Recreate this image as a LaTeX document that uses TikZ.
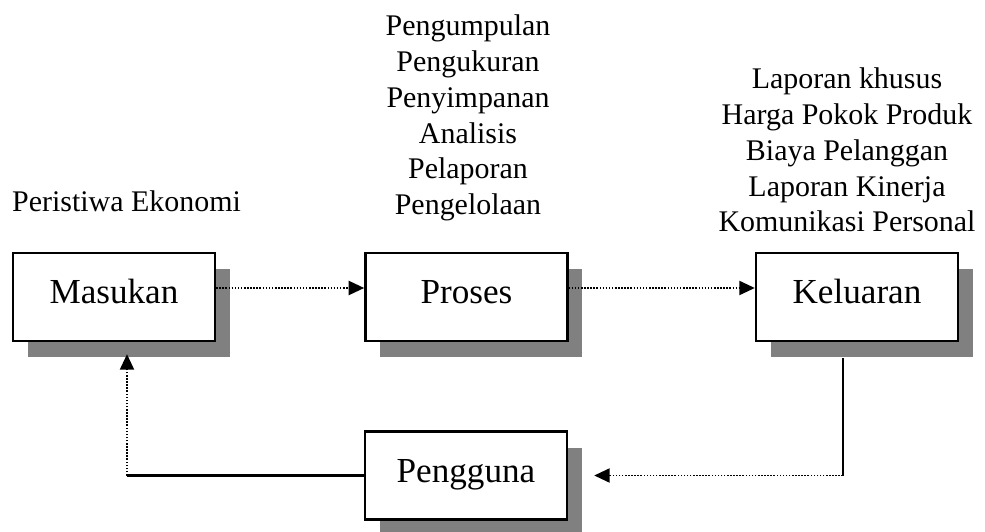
\documentclass[tikz,border=0pt]{standalone}
\usepackage{fontspec}
\setmainfont{Liberation Serif}
\usetikzlibrary{arrows.meta,shadows}
\definecolor{bayangan}{RGB}{128,128,128}
\tikzset{
  kotak/.style={draw, line width=1.7pt, fill=white,
    minimum width=5.05cm, minimum height=2.2cm,
    text height=0.6cm, text depth=0.25cm, inner sep=0pt,
    font=\fontsize{25}{30}\selectfont,
    general shadow={fill=bayangan, shadow xshift=0.375cm, shadow yshift=-0.4cm}},
  alir/.style={line width=1.3pt, dash pattern=on 1.1pt off 1.1pt,
    -{Triangle[length=11pt,width=10pt]}},
  garis/.style={line width=1.6pt},
  daftar/.style={align=center, inner sep=0pt, font=\fontsize{21.3}{25.5}\selectfont}
}
\begin{document}
\begin{tikzpicture}  % ------ Sistem informasi biaya -----------
    \useasboundingbox (0,0) rectangle (24.625,13.275);

    \node[kotak] (masukan)  at (2.85,5.85)    {Masukan};
    \node[kotak] (proses)   at (11.66,5.85)   {Proses};
    \node[kotak] (keluaran) at (21.425,5.85)  {Keluaran};
    \node[kotak] (pengguna) at (11.65,1.3875) {Pengguna};

    \node[daftar, anchor=base]  (peristiwa) at (3.1625,7.975) {Peristiwa Ekonomi};
    \node[daftar, anchor=north] (kegiatan)  at (11.7,12.9125)
      {Pengumpulan\\ Pengukuran\\ Penyimpanan\\ Analisis\\ Pelaporan\\ Pengelolaan};
    \node[daftar, anchor=north] (laporan)   at (21.175,11.5875)
      {Laporan khusus\\ Harga Pokok Produk\\ Biaya Pelanggan\\ Laporan Kinerja\\ Komunikasi Personal};

    \draw[alir] ([yshift=0.225cm]masukan.east) -- ([yshift=0.225cm]proses.west);
    \draw[alir] ([yshift=0.225cm]proses.east) -- ([yshift=0.225cm]keluaran.west);

    \coordinate (belok) at ([xshift=-0.35cm]keluaran.south |- pengguna.east);
    \draw[garis] ([xshift=-0.35cm,yshift=-0.4cm]keluaran.south) -- (belok);
    \draw[alir] (belok) -- ([xshift=0.65cm]pengguna.east);

    \coordinate (balik) at ([xshift=0.325cm]masukan.south |- pengguna.west);
    \draw[garis] (pengguna.west) -- (balik);
    \draw[alir] (balik) -- ([xshift=0.325cm,yshift=-0.3cm]masukan.south);
\end{tikzpicture}
\end{document}
